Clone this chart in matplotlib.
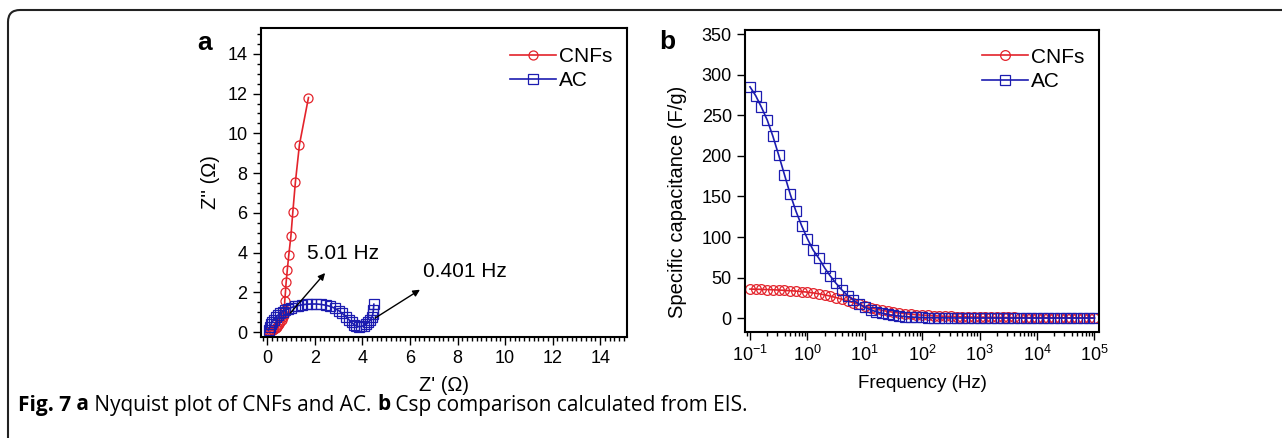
"""
EIS comparison figure: Nyquist plot (a) and specific capacitance vs frequency (b)
"""
import matplotlib
matplotlib.use('Agg')
import matplotlib.pyplot as plt
from matplotlib.patches import FancyBboxPatch
from matplotlib.ticker import MultipleLocator, LogLocator, NullFormatter
from matplotlib.transforms import IdentityTransform
import numpy as np

plt.rcParams['font.family'] = ['Liberation Sans', 'DejaVu Sans']
plt.rcParams['mathtext.fontset'] = 'custom'
plt.rcParams['mathtext.rm'] = 'Liberation Sans'
plt.rcParams['mathtext.it'] = 'Liberation Sans:italic'

# ---- data: Nyquist (panel a) ----
cnf_zre = [0.05, 0.10, 0.15, 0.20, 0.25, 0.30, 0.35, 0.40, 0.45, 0.50, 0.55, 0.60,
           0.64, 0.68, 0.71, 0.73, 0.73, 0.76, 0.79, 0.84, 0.90, 0.99, 1.07, 1.18,
           1.35, 1.73]
cnf_zim = [0.00, 0.02, 0.05, 0.08, 0.12, 0.16, 0.21, 0.27, 0.34, 0.42, 0.52, 0.63,
           0.75, 0.88, 1.00, 1.12, 1.54, 2.00, 2.50, 3.14, 3.86, 4.82, 6.02, 7.55,
           9.43, 11.8]

ac_zre = [0.05, 0.10, 0.15, 0.20, 0.27, 0.35, 0.45, 0.55, 0.65, 0.75, 0.87, 1.00,
          1.15, 1.30, 1.47, 1.65, 1.85, 2.05, 2.25, 2.45, 2.65, 2.83, 3.00, 3.15,
          3.30, 3.43, 3.55, 3.65, 3.75, 3.85, 3.95, 4.05, 4.15, 4.25, 4.33, 4.40,
          4.44, 4.46, 4.48]
ac_zim = [0.10, 0.25, 0.38, 0.50, 0.62, 0.74, 0.85, 0.95, 1.03, 1.10, 1.17, 1.23,
          1.29, 1.33, 1.37, 1.40, 1.41, 1.41, 1.39, 1.35, 1.29, 1.20, 1.08, 0.94,
          0.78, 0.62, 0.48, 0.37, 0.30, 0.27, 0.28, 0.32, 0.39, 0.48, 0.60, 0.75,
          0.92, 1.10, 1.40]

# ---- data: capacitance vs frequency (panel b), 10 points per decade ----
decade_mantissa = [1.0, 1.26, 1.58, 2.0, 2.51, 3.16, 3.98, 5.01, 6.31, 7.94]
decades = [0.1, 1, 10, 100, 1000, 10000]
freq_hz = [m * d for d in decades for m in decade_mantissa] + [100000]

cnf_csp = [36.0, 35.8, 35.6, 35.4, 35.1, 34.8, 34.4, 34.0, 33.5, 32.9,
           32.2, 31.3, 30.2, 28.9, 27.3, 25.5, 23.5, 21.4, 19.2, 17.0,
           14.9, 13.0, 11.3, 9.8, 8.5, 7.4, 6.5, 5.7, 5.0, 4.4,
           3.9, 3.5, 3.1, 2.8, 2.5, 2.3, 2.1, 1.9, 1.7, 1.6,
           1.5, 1.4, 1.3, 1.2, 1.1, 1.0, 1.0, 0.9, 0.9, 0.8,
           0.8, 0.8, 0.7, 0.7, 0.7, 0.6, 0.6, 0.6, 0.6, 0.5,
           0.5]
ac_csp = [285, 274, 260, 244, 224, 201, 177, 153, 132, 114,
          98, 84, 74, 62, 52, 43, 35, 28, 22.5, 17.6,
          13.5, 10.5, 8.1, 6.2, 4.7, 3.5, 2.8, 2.1, 1.6, 1.2,
          1.0, 0.8, 0.7, 0.6, 0.5, 0.45, 0.4, 0.38, 0.35, 0.33,
          0.3, 0.3, 0.3, 0.3, 0.3, 0.3, 0.3, 0.3, 0.3, 0.3,
          0.3, 0.3, 0.3, 0.3, 0.3, 0.3, 0.3, 0.3, 0.3, 0.3,
          0.3]

RED = '#e3232b'
BLUE = '#1c1cb0'

W, H = 1282, 438
fig = plt.figure(figsize=(W / 100, H / 100), dpi=100)

# outer frame (only top and left edges visible, rounded corner)
frame = FancyBboxPatch((8, -40), 1400, H - 10 + 40,
                       boxstyle='round,pad=0,rounding_size=12',
                       transform=IdentityTransform(), fill=False,
                       edgecolor='#222222', linewidth=1.5, clip_on=False)
fig.patches.append(frame)


def style_axes(ax):
    for s in ax.spines.values():
        s.set_linewidth(1.5)
    ax.tick_params(which='both', direction='out', top=False, right=False,
                   width=1.0, labelsize=13)
    ax.tick_params(which='major', length=6)
    ax.tick_params(which='minor', length=3)


# ---- panel a ----
axa = fig.add_axes([260.7 / W, 1 - 337 / H, (627 - 260.7) / W, (337 - 28) / H])
axa.plot(cnf_zre, cnf_zim, '-o', color=RED, mfc='none', mec=RED, ms=6.5,
         mew=0.9, lw=1.2, label='CNFs')
axa.plot(ac_zre, ac_zim, '-s', color=BLUE, mfc='none', mec=BLUE, ms=6.5,
         mew=0.9, lw=1.2, label='AC')
axa.set_xlim(-0.28, 15.13)
axa.set_ylim(-0.25, 15.3)
axa.xaxis.set_major_locator(MultipleLocator(2))
axa.xaxis.set_minor_locator(MultipleLocator(0.2))
axa.yaxis.set_major_locator(MultipleLocator(2))
axa.yaxis.set_minor_locator(MultipleLocator(0.5))
style_axes(axa)
axa.set_xlabel("Z' (\u03a9)", fontsize=14.5, labelpad=6)
axa.set_ylabel("Z'' (\u03a9)", fontsize=14.5, labelpad=5)
axa.legend(loc='upper right', fontsize=15, frameon=False, handlelength=2.2,
           handletextpad=0.15, labelspacing=0.25, borderaxespad=0.3,
           bbox_to_anchor=(1.0, 0.985))
axa.annotate('', xy=(2.43, 2.97), xytext=(0.97, 0.96),
             arrowprops=dict(arrowstyle='-|>', color='black', lw=1.0,
                             mutation_scale=10, shrinkA=0, shrinkB=0))
axa.text(1.66, 3.93, '5.01 Hz', fontsize=15, va='center', ha='left')
axa.annotate('', xy=(6.42, 2.13), xytext=(4.53, 0.70),
             arrowprops=dict(arrowstyle='-|>', color='black', lw=1.0,
                             mutation_scale=10, shrinkA=0, shrinkB=0))
axa.text(6.56, 3.05, '0.401 Hz', fontsize=15, va='center', ha='left')
fig.text(205 / W, 1 - 43 / H, 'a', fontsize=19, fontweight='bold',
         ha='center', va='center')

# ---- panel b ----
axb = fig.add_axes([745 / W, 1 - 331.7 / H, (1099 - 745) / W, (331.7 - 30) / H])
axb.plot(freq_hz, cnf_csp, '-o', color=RED, mfc='none', mec=RED, ms=7,
         mew=0.9, lw=1.2, label='CNFs')
axb.plot(freq_hz, ac_csp, '-s', color=BLUE, mfc='none', mec=BLUE, ms=7,
         mew=0.9, lw=1.2, label='AC')
axb.set_xscale('log')
axb.set_xlim(10 ** -1.087, 10 ** 5.08)
axb.set_ylim(-16.5, 355)
axb.xaxis.set_major_locator(LogLocator(base=10, numticks=10))
axb.xaxis.set_minor_locator(LogLocator(base=10, subs=np.arange(2, 10), numticks=20))
axb.xaxis.set_minor_formatter(NullFormatter())
axb.yaxis.set_major_locator(MultipleLocator(50))
style_axes(axb)
axb.set_xlabel('Frequency (Hz)', fontsize=13.5, labelpad=7)
axb.set_ylabel('Specific capacitance (F/g)', fontsize=14.5)
axb.yaxis.set_label_coords(-0.165, 0.43)
axb.legend(loc='upper right', fontsize=15, frameon=False, handlelength=2.2,
           handletextpad=0.15, labelspacing=0.25, borderaxespad=0.3,
           bbox_to_anchor=(1.0, 0.99))
fig.text(667 / W, 1 - 42 / H, 'b', fontsize=19, fontweight='bold',
         ha='center', va='center')

# ---- caption with mixed bold parts ----
caption = [('Fig. 7', 'bold'), (' a', 'bold'), (' Nyquist plot of CNFs and AC. ', 'normal'),
           ('b', 'bold'), (' Csp comparison calculated from EIS.', 'normal')]
fig.canvas.draw()
renderer = fig.canvas.get_renderer()
x_px = 18
for txt, weight in caption:
    t = fig.text(x_px / W, 1 - 405 / H, txt, fontsize=15, fontweight=weight,
                 family=['Open Sans', 'DejaVu Sans'], ha='left', va='center')
    bb = t.get_window_extent(renderer=renderer)
    x_px += bb.width

fig.savefig('out.png', dpi=100)
plt.close(fig)
